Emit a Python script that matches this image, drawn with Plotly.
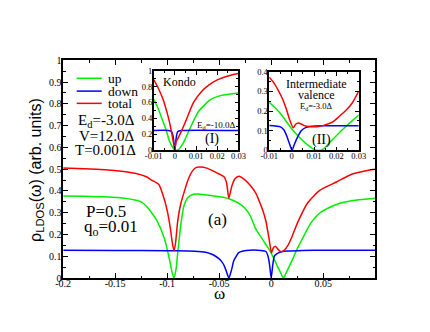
import plotly.graph_objects as go

# main panel: LDOS vs omega
w_up = [-0.2, -0.18, -0.16, -0.14, -0.13, -0.125, -0.12, -0.115, -0.11, -0.1028, -0.098,
        -0.0955, -0.0935, -0.0915, -0.09, -0.087, -0.084, -0.08, -0.075, -0.07, -0.065,
        -0.06, -0.05, -0.045, -0.04, -0.035, -0.03, -0.025, -0.02, -0.015, -0.01, -0.005,
        -0.001, 0.003, 0.006, 0.009, 0.0117, 0.014, 0.017, 0.02, 0.024, 0.03, 0.035, 0.04,
        0.047, 0.055, 0.0627, 0.07, 0.08, 0.09, 0.1]
rho_up = [0.377, 0.376, 0.373, 0.366, 0.357, 0.35, 0.33, 0.30, 0.265, 0.183, 0.09,
          0.03, 0.0, 0.04, 0.11, 0.24, 0.33, 0.37, 0.385, 0.386, 0.383,
          0.38, 0.373, 0.37, 0.363, 0.353, 0.34, 0.32, 0.285, 0.227, 0.19, 0.153,
          0.124, 0.085, 0.055, 0.025, 0.0, 0.02, 0.05, 0.08, 0.124, 0.18, 0.227, 0.265,
          0.30, 0.322, 0.338, 0.348, 0.357, 0.362, 0.367]

w_down = [-0.2, -0.15, -0.1, -0.08, -0.07, -0.062, -0.059, -0.055, -0.05, -0.047, -0.045,
          -0.043, -0.0407, -0.038, -0.036, -0.033, -0.0315, -0.027, -0.0207, -0.01, -0.005,
          -0.003, -0.0015, 0.0, 0.0015, 0.003, 0.005, 0.007, 0.01, 0.016, 0.03, 0.05, 0.1]
rho_down = [0.128, 0.127, 0.126, 0.124, 0.122, 0.118, 0.113, 0.105, 0.088, 0.072, 0.055,
            0.03, 0.0, 0.04, 0.08, 0.105, 0.116, 0.124, 0.128, 0.127, 0.122,
            0.1, 0.06, 0.0, 0.06, 0.1, 0.11, 0.116, 0.121, 0.124, 0.127, 0.128, 0.128]

w_tot = [-0.2, -0.18, -0.16, -0.14, -0.13, -0.12, -0.115, -0.108, -0.104, -0.1, -0.097,
         -0.095, -0.0935, -0.092, -0.09, -0.087, -0.084, -0.08, -0.076, -0.072, -0.068,
         -0.062, -0.055, -0.05, -0.0454, -0.043, -0.0407, -0.038, -0.035, -0.031, -0.025,
         -0.02, -0.0148, -0.012, -0.008, -0.005, -0.002, 0.0003, 0.002, 0.004, 0.007,
         0.0095, 0.0125, 0.0164, 0.02, 0.0256, 0.035, 0.047, 0.0627, 0.078, 0.09, 0.1]
rho_tot = [0.505, 0.502, 0.497, 0.488, 0.48, 0.465, 0.45, 0.43, 0.38, 0.31, 0.23,
           0.16, 0.125, 0.16, 0.257, 0.34, 0.39, 0.45, 0.49, 0.508, 0.51,
           0.505, 0.49, 0.478, 0.465, 0.44, 0.367, 0.42, 0.455, 0.468, 0.45,
           0.425, 0.39, 0.36, 0.31, 0.26, 0.18, 0.116, 0.138, 0.146, 0.13,
           0.121, 0.128, 0.153, 0.19, 0.257, 0.345, 0.404, 0.441, 0.478, 0.492, 0.50]

# inset (I): Kondo regime
k_w_up = [-0.01, -0.008, -0.0056, -0.004, -0.0026, -0.001, 0.0, 0.0015, 0.004, 0.0065,
          0.011, 0.017, 0.022, 0.03]
k_up = [0.64, 0.53, 0.357, 0.24, 0.113, 0.03, 0.0, 0.0, 0.09, 0.235,
        0.48, 0.64, 0.69, 0.72]
k_w_down = [-0.01, -0.003, -0.0015, -0.0007, 0.0, 0.0006, 0.0013, 0.003, 0.03]
k_down = [0.245, 0.245, 0.23, 0.15, 0.0, 0.15, 0.23, 0.245, 0.245]
k_w_tot = [-0.01, -0.008, -0.0056, -0.004, -0.0026, -0.0011, 0.0, 0.0005, 0.0012, 0.0027,
           0.005, 0.0088, 0.0126, 0.016, 0.02, 0.025, 0.03]
k_tot = [0.89, 0.79, 0.64, 0.5, 0.357, 0.155, 0.0, 0.1, 0.134, 0.216,
         0.357, 0.6, 0.74, 0.82, 0.886, 0.935, 0.967]

# inset (II): intermediate valence
iv_w_up = [-0.01, -0.005, 0.0, 0.005, 0.008, 0.01, 0.012, 0.014, 0.017, 0.02, 0.0236,
           0.027, 0.03]
iv_up = [0.245, 0.188, 0.11, 0.049, 0.02, 0.005, 0.0, 0.005, 0.041, 0.075, 0.115,
         0.15, 0.18]
iv_w_down = [-0.01, -0.005, -0.0035, -0.0022, -0.001, 0.0002, 0.0012, 0.0022, 0.0043,
             0.0065, 0.0093, 0.015, 0.03]
iv_down = [0.127, 0.12, 0.105, 0.074, 0.035, 0.0, 0.03, 0.057, 0.1,
           0.117, 0.123, 0.125, 0.126]
iv_w_tot = [-0.01, -0.008, -0.0058, -0.004, -0.0022, -0.001, 0.0007, 0.0018, 0.0029,
            0.0045, 0.0057, 0.008, 0.012, 0.015, 0.0184, 0.021, 0.0243, 0.027, 0.03]
iv_tot = [0.373, 0.345, 0.302, 0.26, 0.204, 0.16, 0.115, 0.133, 0.139,
          0.133, 0.126, 0.121, 0.122, 0.13, 0.145, 0.17, 0.204, 0.24, 0.302]

GREEN = "#00ee00"
BLUE = "#0000ff"
RED = "#ff0000"
SERIF = "Liberation Serif"
SANS = "Liberation Sans"

W, H = 430, 332


def px_x(p):
    return p / W


def px_y(p):
    return 1 - p / H


fig = go.Figure()

curves = [
    (w_up, rho_up, GREEN, "x", "y"),
    (w_down, rho_down, BLUE, "x", "y"),
    (w_tot, rho_tot, RED, "x", "y"),
    (k_w_up, k_up, GREEN, "x2", "y2"),
    (k_w_down, k_down, BLUE, "x2", "y2"),
    (k_w_tot, k_tot, RED, "x2", "y2"),
    (iv_w_up, iv_up, GREEN, "x3", "y3"),
    (iv_w_down, iv_down, BLUE, "x3", "y3"),
    (iv_w_tot, iv_tot, RED, "x3", "y3"),
]
for xs, ys, col, xa, ya in curves:
    fig.add_trace(
        go.Scatter(
            x=xs, y=ys, mode="lines", xaxis=xa, yaxis=ya,
            line=dict(color=col, width=1.5, shape="spline", smoothing=0.6),
            showlegend=False, hoverinfo="skip",
        )
    )


def axis_style(domain, rng, vals, texts, minor_dtick, minor_tick0, anchor, size, ticklen,
               standoff=0):
    return dict(
        domain=domain, range=rng, anchor=anchor,
        tickmode="array", tickvals=vals, ticktext=texts,
        ticks="inside", ticklen=ticklen, tickwidth=1, tickcolor="black",
        minor=dict(ticks="inside", ticklen=ticklen * 0.55, tickcolor="black",
                   dtick=minor_dtick, tick0=minor_tick0, showgrid=False),
        showline=True, linecolor="black", linewidth=1.5, mirror="allticks",
        showgrid=False, zeroline=False, ticklabelstandoff=standoff,
        tickfont=dict(family=SERIF, size=size, color="black"),
    )


main_x_vals = [-0.2, -0.15, -0.1, -0.05, 0.0, 0.05]
main_x_text = ["-0.2", "-0.15", "-0.1", "-0.05", "0", "0.05"]
main_y_vals = [i / 10 for i in range(11)]
main_y_text = ["0", "0.1", "0.2", "0.3", "0.4", "0.5", "0.6", "0.7", "0.8", "0.9", "1"]
ins_x_vals = [-0.01, 0.0, 0.01, 0.02, 0.03]
ins_x_text = ["-0.01", "0", "0.01", "0.02", "0.03"]
k_y_vals = [0, 0.2, 0.4, 0.6, 0.8, 1.0]
k_y_text = ["0", "0.2", "0.4", "0.6", "0.8", "1"]
iv_y_vals = [0, 0.1, 0.2, 0.3, 0.4]
iv_y_text = ["0", "0.1", "0.2", "0.3", "0.4"]

fig.update_layout(
    width=W, height=H, autosize=False,
    margin=dict(l=0, r=0, t=0, b=0),
    paper_bgcolor="white", plot_bgcolor="white",
    xaxis=axis_style([px_x(48), px_x(372)], [-0.2, 0.1], main_x_vals, main_x_text,
                     0.025, -0.2, "y", 10, 5, standoff=-5),
    yaxis=axis_style([px_y(274), px_y(48)], [0, 1], main_y_vals, main_y_text,
                     0.05, 0, "x", 10, 5, standoff=-2),
    xaxis2=axis_style([px_x(142), px_x(230)], [-0.01, 0.03], ins_x_vals, ins_x_text,
                      0.005, -0.01, "y2", 8.5, 4, standoff=-3),
    yaxis2=axis_style([px_y(141), px_y(59)], [0, 1], k_y_vals, k_y_text,
                      0.1, 0, "x2", 8.5, 4, standoff=-2),
    xaxis3=axis_style([px_x(262), px_x(355)], [-0.01, 0.03], ins_x_vals, ins_x_text,
                      0.005, -0.01, "y3", 8.5, 4, standoff=-3),
    yaxis3=axis_style([px_y(141.5), px_y(60)], [0, 0.4], iv_y_vals, iv_y_text,
                      0.05, 0, "x3", 8.5, 4, standoff=-2),
)

# legend drawn by hand, as in the original
legend_items = [("up", GREEN, 66.7), ("down", BLUE, 80), ("total", RED, 92.7)]
for label, col, ypix in legend_items:
    fig.add_shape(type="line", xref="paper", yref="paper",
                  x0=px_x(62), x1=px_x(88), y0=px_y(ypix), y1=px_y(ypix),
                  line=dict(color=col, width=1.5))
    fig.add_annotation(x=px_x(92), y=px_y(ypix), xref="paper", yref="paper",
                       text=label, showarrow=False, xanchor="left", yanchor="middle",
                       font=dict(family=SERIF, size=13.5, color="black"))

texts = [
    ("E<sub>d</sub>=-3.0Δ", 93, 111, 15),
    ("V=12.0Δ", 93, 126.5, 15),
    ("T=0.001Δ", 92, 141.5, 15),
    ("P=0.5", 92, 205, 17),
    ("q<sub>o</sub>=0.01", 98, 222, 17),
    ("(a)", 208, 213, 17),
    ("Kondo", 169, 71, 12),
    ("E<sub>d</sub>=-10.0Δ", 207, 116, 9),
    ("(I)", 203, 130, 14),
    ("Intermediate", 311, 72.5, 12),
    ("valence", 311.5, 84, 12),
    ("E<sub>d</sub>=-3.0Δ", 311, 95.5, 8.5),
    ("(II)", 316, 130.5, 14),
]
for txt, xp, yp, sz in texts:
    fig.add_annotation(x=px_x(xp), y=px_y(yp), xref="paper", yref="paper",
                       text=txt, showarrow=False, xanchor="center", yanchor="middle",
                       font=dict(family=SERIF, size=sz, color="black"))

# axis titles
fig.add_annotation(x=px_x(20), y=px_y(161.5), xref="paper", yref="paper",
                   text="ρ<sub>LDOS</sub>(ω) (arb. units)", textangle=-90,
                   showarrow=False, xanchor="center", yanchor="middle",
                   font=dict(family=SANS, size=16, color="black"))
fig.add_annotation(x=px_x(210), y=px_y(290), xref="paper", yref="paper",
                   text="ω", showarrow=False, xanchor="center", yanchor="middle",
                   font=dict(family=SERIF, size=17, color="black"))

fig.write_html("out.html")
